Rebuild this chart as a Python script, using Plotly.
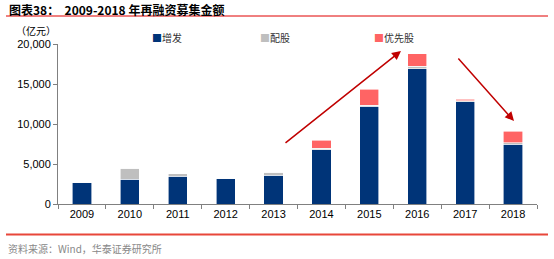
import plotly.graph_objects as go

years = ["2009", "2010", "2011", "2012", "2013", "2014", "2015", "2016", "2017", "2018"]
zengfa = [2700, 3100, 3450, 3200, 3600, 6800, 12250, 16900, 12800, 7450]
peigu = [0, 1400, 350, 0, 400, 150, 100, 300, 100, 200]
youxian = [0, 0, 0, 0, 0, 1050, 2000, 1600, 200, 1450]
series_names = ["增发", "配股", "优先股"]
colors = ["#003478", "#bfbfbf", "#ff6464"]
y_ticks = [0, 5000, 10000, 15000, 20000]
y_labels = ["0", "5,000", "10,000", "15,000", "20,000"]

W, H = 554, 259
L, R, T, B = 58, 17, 44, 55
pw = W - L - R
ph = H - T - B

def px(x):
    return (x - L) / pw

def py(y):
    return (H - B - y) / ph

fig = go.Figure()
for name, vals, c in zip(series_names, [zengfa, peigu, youxian], colors):
    fig.add_trace(go.Bar(x=years, y=vals, name=name, marker=dict(color=c, line=dict(color="white", width=0.6)),
                         showlegend=False))

fig.update_layout(
    width=W, height=H, barmode="stack", bargap=0.6,
    margin=dict(l=L, r=R, t=T, b=B),
    paper_bgcolor="white", plot_bgcolor="white",
    font=dict(family="Liberation Sans, Arial", size=11, color="black"),
    xaxis=dict(showline=True, linecolor="#808080", linewidth=1, ticks="outside", tickcolor="#808080",
               ticklen=4, tickson="boundaries", showgrid=False, tickfont=dict(size=11)),
    yaxis=dict(range=[0, 20000], tickvals=y_ticks, ticktext=y_labels, showline=True, linecolor="#808080",
               linewidth=1, ticks="outside", tickcolor="#808080", ticklen=4, showgrid=False,
               zeroline=False, tickfont=dict(size=11)),
)

cjk = "Noto Sans CJK SC"
ann = []
# title
ann.append(dict(text="<b>图表38：  2009-2018 年再融资募集金额</b>", x=px(7), y=py(9), xref="paper", yref="paper",
                xanchor="left", yanchor="middle", showarrow=False, font=dict(family=cjk, size=12, color="black")))
# unit
ann.append(dict(text="（亿元）", x=px(14), y=py(30), xref="paper", yref="paper", xanchor="left", yanchor="middle",
                showarrow=False, font=dict(family=cjk, size=10, color="black")))
# legend
for name, c, lx in zip(series_names, colors, [150, 258, 372]):
    ann.append(dict(text=f"<span style='color:{c}'>■</span>{name}", x=px(lx), y=py(38), xref="paper", yref="paper",
                    xanchor="left", yanchor="middle", showarrow=False, font=dict(family=cjk, size=10, color="#333333")))
# source
ann.append(dict(text="资料来源：Wind，华泰证券研究所", x=px(6), y=py(248), xref="paper", yref="paper",
                xanchor="left", yanchor="middle", showarrow=False, font=dict(family=cjk, size=10, color="#888888")))
# arrows
for (tx, ty), (hx, hy) in [((284, 144), (401, 51)), ((457, 57), (514, 121))]:
    ann.append(dict(text="", x=px(hx), y=py(hy), xref="paper", yref="paper", ax=tx - hx, ay=ty - hy,
                    showarrow=True, arrowhead=2, arrowsize=1.2, arrowwidth=1.5, arrowcolor="#c00000"))
fig.update_layout(annotations=ann)

fig.update_layout(shapes=[
    dict(type="line", xref="paper", yref="paper", x0=px(6), x1=px(548), y0=py(16), y1=py(16),
         line=dict(color="#e00000", width=1)),
    dict(type="line", xref="paper", yref="paper", x0=px(6), x1=px(548), y0=py(234.5), y1=py(234.5),
         line=dict(color="#e8473a", width=2)),
])

fig.write_html("out.html")
